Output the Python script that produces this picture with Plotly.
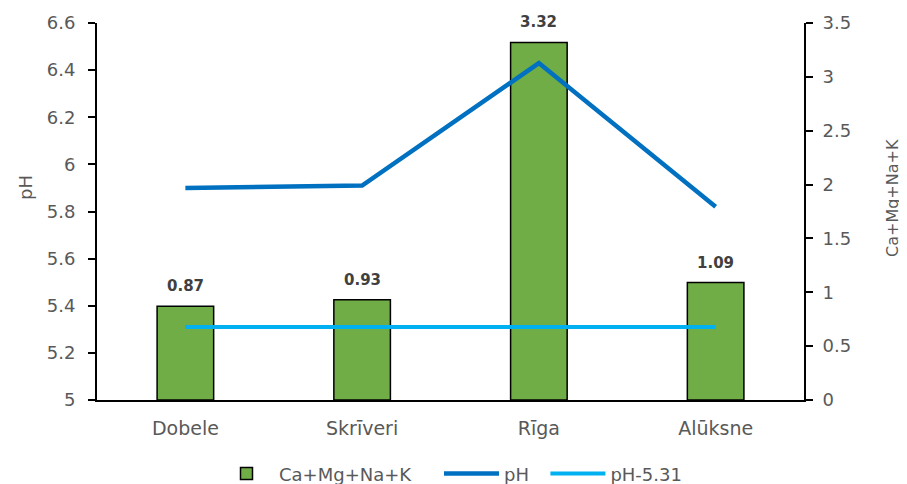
import plotly.graph_objects as go

sites = ["Dobele", "Skrīveri", "Rīga", "Alūksne"]
cations = [0.87, 0.93, 3.32, 1.09]
ph = [5.90, 5.91, 6.43, 5.82]
ph_ref = [5.31, 5.31, 5.31, 5.31]
cation_labels = ["0.87", "0.93", "3.32", "1.09"]

GRAY = "#595959"
FONT = "DejaVu Sans"
NB = "\u00a0"

# the page body has an 8px margin, so the figure is placed at (8, 8)
W, H = 899, 476
L, T, PW, PH = 89, 15, 707, 377

fig = go.Figure()

fig.add_trace(go.Bar(
    x=sites, y=cations, name="Ca+Mg+Na+K" + NB * 4, yaxis="y",
    width=0.32,
    marker=dict(color="#70AD47", line=dict(color="black", width=1.5)),
))
fig.add_trace(go.Scatter(
    x=sites, y=ph, name="pH" + NB * 2, yaxis="y2", mode="lines",
    line=dict(color="#0070C0", width=4.5),
))
fig.add_trace(go.Scatter(
    x=sites, y=ph_ref, name="pH-5.31", yaxis="y2", mode="lines",
    line=dict(color="#00B0F0", width=4),
))

annotations = []
for s, v, t in zip(sites, cations, cation_labels):
    annotations.append(dict(
        x=s, y=v, xref="x", yref="y", text=t, showarrow=False,
        yshift=20, font=dict(family=FONT, size=15, color="#404040", weight="bold"),
    ))
annotations.append(dict(
    x=(17 - L) / PW, y=(T + PH - 180) / PH, xref="paper", yref="paper",
    xanchor="center", yanchor="middle", text="pH", textangle=-90,
    showarrow=False, font=dict(family=FONT, size=18, color=GRAY),
))
annotations.append(dict(
    x=(884 - L) / PW, y=(T + PH - 190) / PH, xref="paper", yref="paper",
    xanchor="center", yanchor="middle", text="Ca+Mg+Na+K", textangle=-90,
    showarrow=False, font=dict(family=FONT, size=16, color=GRAY),
))

fig.update_layout(
    width=W, height=H,
    margin=dict(l=L, r=W - L - PW, t=T, b=H - T - PH, autoexpand=False),
    paper_bgcolor="white", plot_bgcolor="white",
    showlegend=True,
    legend=dict(orientation="h", x=0.5, xanchor="center", y=-0.196, yanchor="middle",
                font=dict(family=FONT, size=18, color=GRAY), itemwidth=55,
                traceorder="normal"),
    xaxis=dict(
        showline=True, linecolor="black", linewidth=2, ticks="",
        showgrid=False, tickfont=dict(family=FONT, size=19, color=GRAY),
        ticklabelstandoff=10, automargin=False,
    ),
    yaxis=dict(
        side="right", range=[0, 3.5], dtick=0.5, showgrid=False, zeroline=False,
        showline=True, linecolor="black", linewidth=2, ticks="outside", ticklen=7,
        tickcolor="black", tickwidth=2, automargin=False,
        tickfont=dict(family=FONT, size=18, color=GRAY), ticklabelstandoff=6,
    ),
    yaxis2=dict(
        overlaying="y", side="left", range=[5, 6.6], dtick=0.2, showgrid=False,
        zeroline=False, showline=True, linecolor="black", linewidth=2,
        ticks="outside", ticklen=7, tickcolor="black", tickwidth=2, automargin=False,
        tickfont=dict(family=FONT, size=18, color=GRAY), ticklabelstandoff=9,
        tickformat="~g",
    ),
    annotations=annotations,
)

fig.write_html("out.html")
